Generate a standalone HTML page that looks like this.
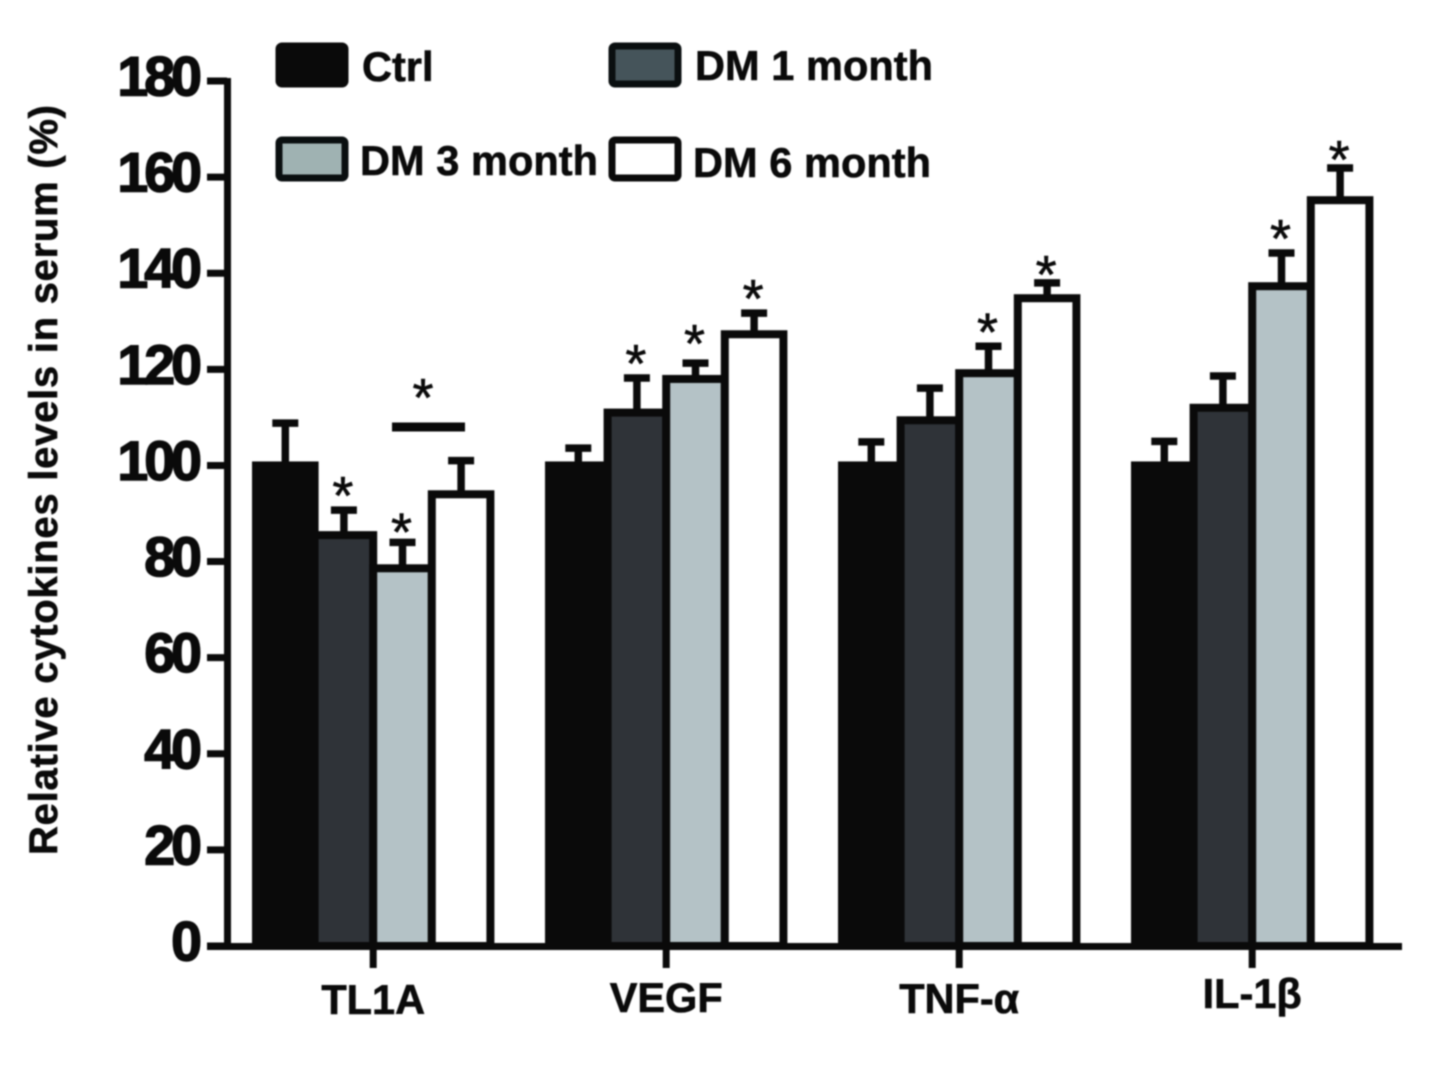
<!DOCTYPE html>
<html lang="en">
<head>
<meta charset="utf-8">
<title>Relative cytokines levels in serum</title>
<style>
html,body{margin:0;padding:0;background:#fff;width:1445px;height:1087px;overflow:hidden}
svg{display:block;filter:blur(0.7px)}
text{font-family:"Liberation Sans",sans-serif;font-weight:bold;fill:#0a0a0a}
.lbl{stroke:#0a0a0a;stroke-width:0.6px}
</style>
</head>
<body>
<svg id="chart" xmlns="http://www.w3.org/2000/svg" width="1445" height="1087" viewBox="0 0 1445 1087">
<defs>
<filter id="sig-shadow" x="-20%" y="-300%" width="140%" height="700%"><feGaussianBlur stdDeviation="2.5"/></filter>
</defs>
<text class="lbl" transform="translate(57,480) rotate(-90)" text-anchor="middle" font-size="40" textLength="750" lengthAdjust="spacing">Relative cytokines levels in serum (%)</text>
<g id="marks"></g>
<g>
<g>
<rect x="279" y="46" width="66" height="38" rx="3" fill="#0a0a0a" stroke="#0a0a0a" stroke-width="7"/>
<text class="lbl" x="362" y="81" font-size="41.5">Ctrl</text>
</g>
<g>
<rect x="612" y="46" width="66" height="38" rx="3" fill="#45545a" stroke="#0a0f10" stroke-width="7"/>
<text class="lbl" x="695" y="80" font-size="41.5" textLength="238" lengthAdjust="spacing">DM 1 month</text>
</g>
<g>
<rect x="279" y="140" width="66" height="38" rx="3" fill="#9fb2b2" stroke="#0a0f10" stroke-width="7"/>
<text class="lbl" x="360" y="175" font-size="41.5" textLength="238" lengthAdjust="spacing">DM 3 month</text>
</g>
<g>
<rect x="612" y="140" width="66" height="38" rx="3" fill="#ffffff" stroke="#0a0a0a" stroke-width="7"/>
<text class="lbl" x="693" y="177" font-size="41.5" textLength="238" lengthAdjust="spacing">DM 6 month</text>
</g>
</g>
</svg>
<script>
const categories = ['TL1A', 'VEGF', 'TNF-α', 'IL-1β'];
const seriesNames = ['Ctrl', 'DM 1 month', 'DM 3 month', 'DM 6 month'];
const ctrlValues = [100, 100, 100, 100];
const dm1Values = [85.5, 111, 109.4, 112];
const dm3Values = [78.6, 118, 119.2, 137.3];
const dm6Values = [94, 127.3, 134.8, 155.2];
const ctrlErrorTops = [108.8, 103.6, 104.9, 105];
const dm1ErrorTops = [90.7, 118.2, 116.1, 118.6];
const dm3ErrorTops = [84, 121.3, 124.8, 144.2];
const dm6ErrorTops = [101, 131.7, 138, 161.9];
const ctrlSignificant = [false, false, false, false];
const dm1Significant = [true, true, false, false];
const dm3Significant = [true, true, true, true];
const dm6Significant = [false, true, true, true];
const yTicks = [0, 20, 40, 60, 80, 100, 120, 140, 160, 180];

const NS = 'http://www.w3.org/2000/svg';
const marks = document.getElementById('marks');
const yScale = v => 946 - v * (865 / 180);
const groupScale = i => 256 + 293 * i;
const barStep = 58.6;
const xScale = (i, j) => groupScale(i) + j * barStep;
const fills = ['#0a0a0a', '#2f3338', '#b4c2c6', '#ffffff'];
const valueSets = [ctrlValues, dm1Values, dm3Values, dm6Values];
const errorSets = [ctrlErrorTops, dm1ErrorTops, dm3ErrorTops, dm6ErrorTops];
const sigSets = [ctrlSignificant, dm1Significant, dm3Significant, dm6Significant];
const INK = '#0a0a0a';

function make(tag, attrs, parent) {
  const el = document.createElementNS(NS, tag);
  for (const k in attrs) el.setAttribute(k, attrs[k]);
  (parent || marks).appendChild(el);
  return el;
}
function slug(s) {
  return s.toLowerCase().replace('α', 'alpha').replace('β', 'beta').replace(/[^a-z0-9]+/g, '-');
}
function starGap(i, j) {
  if (j === 3 && i >= 2) return 14;
  if (i === 0 && j === 2) return 16;
  if (i === 1 && j === 2) return 25;
  return 20;
}

categories.forEach((cat, i) => {
  seriesNames.forEach((name, j) => {
    const x0 = xScale(i, j), x1 = xScale(i, j + 1), cx = (x0 + x1) / 2;
    const top = yScale(valueSets[j][i]), errTop = yScale(errorSets[j][i]);

    const stem = make('line', {x1: cx, x2: cx, y1: top, y2: errTop, stroke: INK, 'stroke-width': 7.5});
    
    

    const cap = make('line', {x1: cx - 13, x2: cx + 13, y1: errTop, y2: errTop, stroke: INK, 'stroke-width': 7.5});
    
    

    const bar = make('rect', {x: x0, y: top, width: x1 - x0, height: 946 - top, fill: fills[j], stroke: INK, 'stroke-width': 8});
    
    

    if (sigSets[j][i]) {
      const star = make('text', {x: cx - 1, y: errTop - starGap(i, j) + 24, 'text-anchor': 'middle', 'font-size': 54, stroke: INK, 'stroke-width': 0.6, style: 'font-weight:normal'});
      star.textContent = '*';
      
      
    }
  });
});

const shadow = make('line', {x1: 395, x2: 463, y1: 432, y2: 432, stroke: '#555', 'stroke-width': 6, filter: 'url(#sig-shadow)'});


const sigLine = make('line', {x1: 392, x2: 465, y1: 427, y2: 427, stroke: INK, 'stroke-width': 9});


const sigStar = make('text', {x: 423, y: 416, 'text-anchor': 'middle', 'font-size': 54, stroke: INK, 'stroke-width': 0.6, style: 'font-weight:normal'});
sigStar.textContent = '*';



const yAxis = make('line', {x1: 227.5, x2: 227.5, y1: 78, y2: 950, stroke: INK, 'stroke-width': 7});


const xAxis = make('line', {x1: 207, x2: 1402, y1: 946.5, y2: 946.5, stroke: INK, 'stroke-width': 7});



yTicks.forEach(t => {
  const y = yScale(t);
  const tick = make('line', {x1: 207, x2: 227, y1: y, y2: y, stroke: INK, 'stroke-width': 7});
  
  
  const label = make('text', {x: 198, y: y + 14.5, 'text-anchor': 'end', 'font-size': 55.5, 'letter-spacing': -4, stroke: INK, 'stroke-width': 1.5});
  label.textContent = t;
  
  
});

const xLabelBaselines = [1014, 1012, 1013, 1008];
categories.forEach((cat, i) => {
  const cx = xScale(i, 2);
  const tick = make('line', {x1: cx, x2: cx, y1: 946, y2: 968, stroke: INK, 'stroke-width': 7});
  
  
  const label = make('text', {x: cx, y: xLabelBaselines[i], 'text-anchor': 'middle', 'font-size': 41.5, class: 'lbl'});
  label.textContent = cat;
  
  
});
</script>
</body>
</html>
